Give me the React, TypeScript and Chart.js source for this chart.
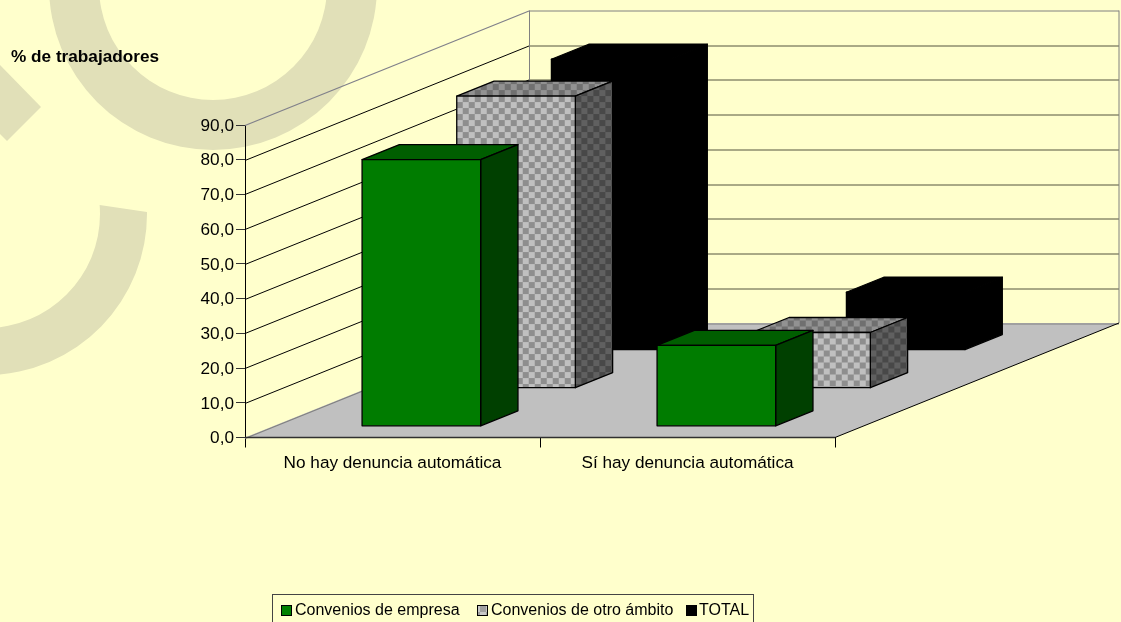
import React, { useEffect, useRef } from "react";
import { Chart, registerables, BarController } from "chart.js";

Chart.register(...registerables);

const categories = ["No hay denuncia automática", "Sí hay denuncia automática"];
const empresa = [76.7, 23.2];
const otroAmbito = [84.0, 15.9];
const total = [83.6, 16.5];
const seriesNames = ["Convenios de empresa", "Convenios de otro ámbito", "TOTAL"];
const titleText = "% de trabajadores";

const FONT = '"Liberation Sans", Arial, sans-serif';
const BG = "#FFFFCC";
const MARK = "#E1E0B8";
const DX = 284;
const DY = 114.5;
const BAR_W = 0.402;
const BAR_DX = 37.3;
const BAR_DY = 15;
const ROW_START = 0.305;
const LEGEND_SWATCH_X = [281, 477, 686];
const LEGEND_TEXT_X = [295, 491, 699];

function checker(ctx: CanvasRenderingContext2D, a: string, b: string, m?: DOMMatrix) {
  const c = document.createElement("canvas");
  c.width = 12;
  c.height = 12;
  const g = c.getContext("2d")!;
  g.fillStyle = a;
  g.fillRect(0, 0, 12, 12);
  g.fillStyle = b;
  g.fillRect(0, 0, 6, 6);
  g.fillRect(6, 6, 6, 6);
  const p = ctx.createPattern(c, "repeat")!;
  if (m) p.setTransform(m);
  return p;
}

const looks: any[] = [
  { front: "#007C00", top: "#005E00", side: "#004000", stroke: "#000" },
  { pattern: true, stroke: "#000" },
  { front: "#000", top: "#000", side: "#000", stroke: "#000" },
];

class Bar3DController extends BarController {
  static id = "bar3d";
  static defaults = BarController.defaults;
  static overrides = BarController.overrides;
  draw() {
    const chart: any = this.chart;
    const ctx: CanvasRenderingContext2D = chart.ctx;
    const { x, y } = chart.scales;
    const k = this.index;
    const look = looks[k];
    const catW = x.getPixelForValue(1) - x.getPixelForValue(0);
    const w = catW * BAR_W;
    const ox = (DX * (k + ROW_START)) / 3;
    const oy = (DY * (k + ROW_START)) / 3;
    const base = y.getPixelForValue(0);
    const n = chart.data.labels.length;
    for (let i = 0; i < n; i++) {
      const v = (this.getParsed(i) as any).y;
      const l = x.getPixelForValue(i) + ox - w / 2;
      const r = l + w;
      const b = base - oy;
      const t = y.getPixelForValue(v) - oy;
      let fFront: any = look.front;
      let fTop: any = look.top;
      let fSide: any = look.side;
      if (look.pattern) {
        fFront = checker(ctx, "#8E8E8E", "#C0C0C0", new DOMMatrix([1, 0, 0, 1, l, t]));
        fSide = checker(ctx, "#606060", "#484848", new DOMMatrix([1, 0, 0, 1, r, t]));
        fTop = checker(ctx, "#929292", "#707070", new DOMMatrix([1, 0, 0, 1, l, t]));
      }
      ctx.save();
      ctx.lineWidth = 1.3;
      ctx.lineJoin = "round";
      ctx.strokeStyle = look.stroke;
      const face = (pts: number[][], fill: any) => {
        ctx.beginPath();
        pts.forEach((p, j) => (j ? ctx.lineTo(p[0], p[1]) : ctx.moveTo(p[0], p[1])));
        ctx.closePath();
        ctx.fillStyle = fill;
        ctx.fill();
        ctx.stroke();
      };
      face([[l, t], [l + BAR_DX, t - BAR_DY], [r + BAR_DX, t - BAR_DY], [r, t]], fTop);
      face([[r, t], [r + BAR_DX, t - BAR_DY], [r + BAR_DX, b - BAR_DY], [r, b]], fSide);
      face([[l, t], [r, t], [r, b], [l, b]], fFront);
      ctx.restore();
    }
  }
}
Chart.register(Bar3DController as any);

const watermark = {
  id: "watermark",
  beforeDraw(chart: any) {
    const ctx: CanvasRenderingContext2D = chart.ctx;
    ctx.save();
    ctx.fillStyle = BG;
    ctx.fillRect(0, 0, chart.width, chart.height);
    ctx.fillStyle = MARK;
    ctx.beginPath();
    ctx.arc(213, -14, 164, 0, Math.PI);
    ctx.arc(213, -14, 114, Math.PI, 0, true);
    ctx.closePath();
    ctx.fill();
    ctx.beginPath();
    ctx.arc(-14, 214, 161, -0.012, Math.PI);
    ctx.arc(-14, 214, 114, Math.PI, -0.079, true);
    ctx.closePath();
    ctx.fill();
    ctx.beginPath();
    ctx.moveTo(0, 65);
    ctx.lineTo(41, 107);
    ctx.lineTo(7, 141);
    ctx.lineTo(0, 134);
    ctx.closePath();
    ctx.fill();
    ctx.restore();
  },
};

const walls = {
  id: "walls",
  beforeDatasetsDraw(chart: any) {
    const ctx: CanvasRenderingContext2D = chart.ctx;
    const { x, y } = chart.scales;
    const x0 = x.left;
    const x1 = x.right;
    const y0 = y.getPixelForValue(0);
    const seg = (a: number, b: number, c: number, d: number, col: string, lw = 1) => {
      ctx.strokeStyle = col;
      ctx.lineWidth = lw;
      ctx.beginPath();
      ctx.moveTo(a, b);
      ctx.lineTo(c, d);
      ctx.stroke();
    };
    ctx.save();
    ctx.fillStyle = "#C0C0C0";
    ctx.beginPath();
    ctx.moveTo(x0, y0);
    ctx.lineTo(x0 + DX, y0 - DY);
    ctx.lineTo(x1 + DX, y0 - DY);
    ctx.lineTo(x1, y0);
    ctx.closePath();
    ctx.fill();
    y.ticks.forEach((t: any) => {
      const p = Math.round(y.getPixelForValue(t.value)) + 0.5;
      const col = t.value === 90 ? "#80808A" : t.value === 0 ? "#808080" : "#000";
      seg(x0, p, x0 + DX, p - DY, col, t.value === 90 || t.value === 0 ? 1.3 : 1);
      seg(x0 + DX, p - DY, x1 + DX, p - DY, t.value === 90 || t.value === 0 ? "#808080" : "#55553F", 1);
    });
    const top = y.getPixelForValue(90);
    seg(x0 + DX + 0.5, top - DY, x0 + DX + 0.5, y0 - DY, "#808080", 1);
    seg(x1 + DX, top - DY, x1 + DX, y0 - DY, "#808080", 1);
    seg(x1, y0, x1 + DX, y0 - DY, "#000", 1);
    seg(x0, y0, x1, y0, "#303030", 1.4);
    ctx.restore();
  },
};

const annotations = {
  id: "annotations",
  afterDraw(chart: any) {
    const ctx: CanvasRenderingContext2D = chart.ctx;
    ctx.save();
    ctx.fillStyle = "#000";
    ctx.textBaseline = "middle";
    ctx.textAlign = "left";
    ctx.font = `bold 17.2px ${FONT}`;
    ctx.fillText(titleText, 11, 57);

    ctx.strokeStyle = "#444";
    ctx.lineWidth = 1;
    ctx.strokeRect(272.5, 594.5, 481, 40);
    ctx.font = `16px ${FONT}`;
    const swatches: any[] = ["#008000", checker(ctx, "#A0A0A0", "#C8C8C8"), "#000"];
    seriesNames.forEach((name, i) => {
      const px = LEGEND_SWATCH_X[i];
      ctx.fillStyle = swatches[i];
      ctx.fillRect(px, 605, 10, 10);
      ctx.strokeStyle = "#000";
      ctx.lineWidth = 1;
      ctx.strokeRect(px + 0.5, 605.5, 10, 10);
      ctx.fillStyle = "#000";
      ctx.fillText(name, LEGEND_TEXT_X[i], 610.5);
    });
    ctx.restore();
  },
};

export default function App() {
  const ref = useRef<HTMLCanvasElement>(null);
  useEffect(() => {
    const chart = new Chart(ref.current!, {
      type: "bar3d" as any,
      data: {
        labels: categories,
        datasets: [
          { label: seriesNames[0], data: empresa, clip: false },
          { label: seriesNames[1], data: otroAmbito, clip: false },
          { label: seriesNames[2], data: total, clip: false },
        ] as any,
      },
      options: {
        animation: false,
        responsive: false,
        layout: { padding: { left: 175, right: 286, top: 125, bottom: 144.5 } },
        plugins: { legend: { display: false }, title: { display: false }, tooltip: { enabled: false } },
        scales: {
          x: {
            type: "category",
            offset: true,
            afterFit: (s: any) => {
              s.height = 40;
            },
            grid: { offset: true, drawOnChartArea: false, tickLength: 10, tickColor: "#000", color: "#000" },
            border: { color: "#000" },
            ticks: { color: "#000", padding: 5, maxRotation: 0, font: { family: FONT, size: 17.2 } },
          },
          y: {
            type: "linear",
            min: 0,
            max: 90,
            afterFit: (s: any) => {
              s.width = 70;
            },
            grid: { drawOnChartArea: false, tickLength: 9, tickColor: "#333", color: "#333" },
            border: { color: "#000" },
            ticks: {
              stepSize: 10,
              color: "#000",
              padding: 2,
              labelOffset: 1,
              font: { family: FONT, size: 17.2 },
              callback: (v: any) => Number(v).toFixed(1).replace(".", ","),
            },
          },
        },
      } as any,
      plugins: [watermark, walls, annotations],
    });
    return () => chart.destroy();
  }, []);
  return (
    <div style={{ position: "fixed", left: 0, top: 0, width: 1121, height: 622, overflow: "hidden" }}>
      <canvas ref={ref} width={1121} height={622} style={{ display: "block" }} />
    </div>
  );
}
